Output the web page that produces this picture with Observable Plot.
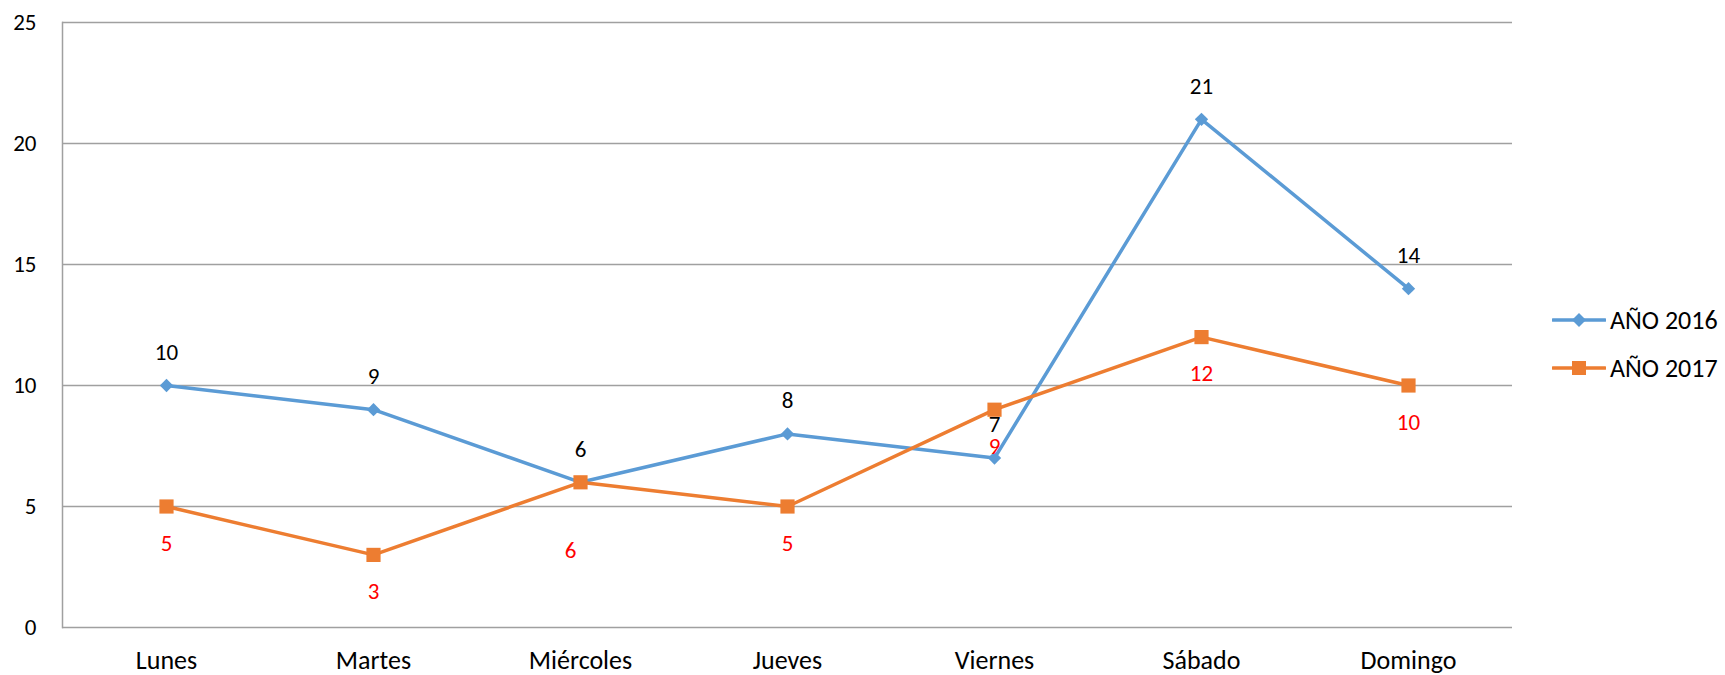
<!DOCTYPE html>
<html>
<head>
<meta charset="utf-8">
<script src="https://cdn.jsdelivr.net/npm/d3@7"></script>
<script src="https://cdn.jsdelivr.net/npm/@observablehq/plot@0.6"></script>
<style>
  body { margin: 0; background: #fff; font-family: Carlito, Lato, "Liberation Sans", sans-serif; }
  #wrap { position: relative; width: 1725px; height: 675px; }
  #legend { position: absolute; left: 1552px; top: 296px; font-size: 26px; color: #000; }
  .item { display: flex; align-items: center; height: 48px; }
  .item span { margin-left: 4px; }
</style>
</head>
<body>
<div id="wrap"><div id="legend"></div></div>
<script>
const days = ["Lunes", "Martes", "Miércoles", "Jueves", "Viernes", "Sábado", "Domingo"];
const values2016 = [10, 9, 6, 8, 7, 21, 14];
const values2017 = [5, 3, 6, 5, 9, 12, 10];
const seriesNames = ["AÑO 2016", "AÑO 2017"];
const yTicks = [0, 5, 10, 15, 20, 25];

const blue = "#5B9BD5", orange = "#ED7D31";
const d16 = days.map((d, i) => ({day: d, v: values2016[i]}));
const d17 = days.map((d, i) => ({day: d, v: values2017[i]}));
const font = "Carlito, Lato, 'Liberation Sans', sans-serif";
// Excel nudged the red "6" (Miércoles) label further down to avoid the black one
const shifted = "Miércoles";

const chart = Plot.plot({
  width: 1725,
  height: 675,
  marginLeft: 62,
  marginRight: 213,
  marginTop: 22,
  marginBottom: 48,
  style: {fontFamily: font, fontSize: "26px", color: "#000", background: "#fff"},
  x: {type: "point", domain: days, padding: 0.5, label: null},
  y: {domain: [0, 25], label: null},
  marks: [
    Plot.gridY(yTicks, {stroke: "#A0A0A0", strokeOpacity: 1, strokeWidth: 1.5}),
    Plot.frame({anchor: "left", stroke: "#A0A0A0", strokeWidth: 1.5}),
    Plot.axisY(yTicks, {tickSize: 0, tickPadding: 26, label: null, fill: "#000", fontSize: 23}),
    Plot.axisX({tickSize: 0, tickPadding: 23, label: null, fill: "#000", fontSize: 26}),
    Plot.line(d16, {x: "day", y: "v", stroke: blue, strokeWidth: 3.5}),
    Plot.line(d17, {x: "day", y: "v", stroke: orange, strokeWidth: 3.5}),
    Plot.dot(d16, {x: "day", y: "v", symbol: "diamond2", r: 6, fill: blue, stroke: null}),
    Plot.dot(d17, {x: "day", y: "v", symbol: "square", r: 8, fill: orange, stroke: null}),
    Plot.text(d16, {x: "day", y: "v", text: d => String(d.v), dy: -33, fill: "#000", fontSize: 23}),
    Plot.text(d17.filter(d => d.day !== shifted), {x: "day", y: "v", text: d => String(d.v), dy: 37, fill: "#FF0000", fontSize: 23}),
    Plot.text(d17.filter(d => d.day === shifted), {x: "day", y: "v", text: d => String(d.v), dy: 68, dx: -10, fill: "#FF0000", fontSize: 23})
  ]
});
document.getElementById("wrap").prepend(chart);

const legend = document.getElementById("legend");
const markers = [
  `<polygon points="27,9 34,16 27,23 20,16" fill="${blue}"/>`,
  `<rect x="20" y="9" width="14" height="14" fill="${orange}"/>`
];
const colors = [blue, orange];
seriesNames.forEach((name, i) => {
  const div = document.createElement("div");
  div.className = "item";
  div.innerHTML = `<svg width="54" height="32"><line x1="1" y1="16" x2="53" y2="16" stroke="${colors[i]}" stroke-width="3.5" stroke-linecap="round"/>${markers[i]}</svg><span>${name}</span>`;
  legend.appendChild(div);
});
</script>
</body>
</html>
